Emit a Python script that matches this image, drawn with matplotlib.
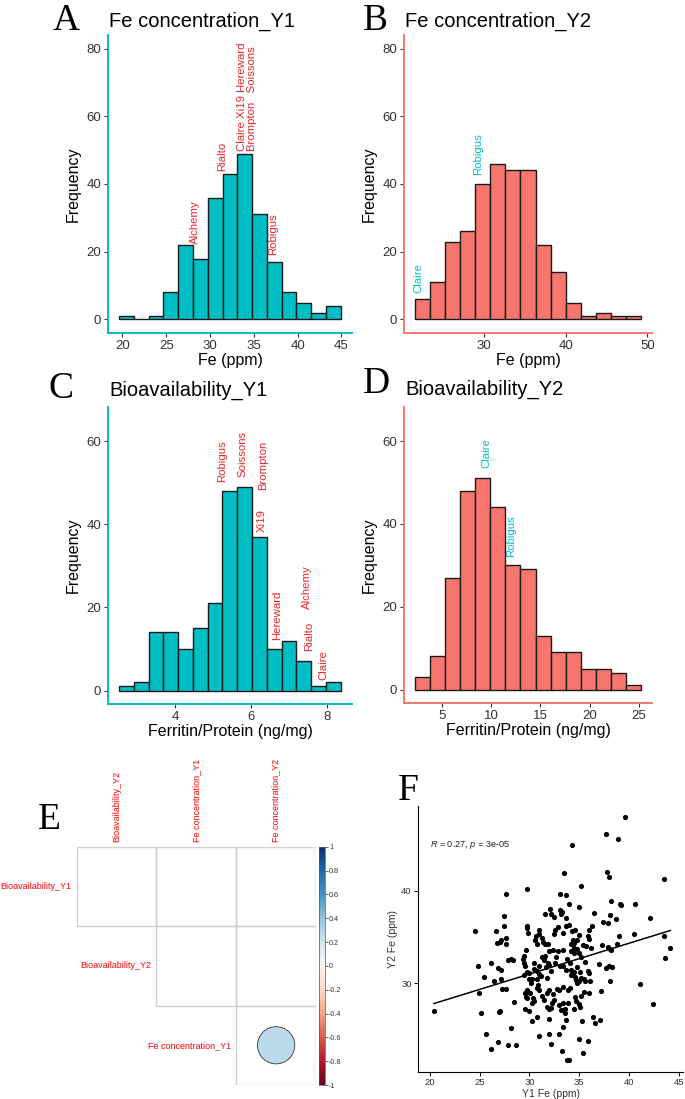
import numpy as np
import matplotlib
matplotlib.use("Agg")
import matplotlib.pyplot as plt
from matplotlib.patches import Rectangle, Circle

plt.rcParams['font.family'] = ['Liberation Sans', 'DejaVu Sans']
plt.rcParams['mathtext.fontset'] = 'custom'
plt.rcParams['mathtext.rm'] = 'Liberation Sans'
plt.rcParams['mathtext.it'] = 'Liberation Sans:italic'

# ---------------- data ----------------
# Histogram A: Fe concentration Y1
fe_y1_range = (19.62, 44.92)
fe_y1_counts = [1, 0, 1, 8, 22, 18, 36, 43, 49, 31, 17, 8, 5, 2, 4]
fe_y1_labels = ["Alchemy", "Rialto", "Claire Xi19 Hereward\nBrompton   Soissons", "Robigus"]
fe_y1_label_x = [28.27, 31.35, 34.2, 37.2]
fe_y1_label_y = [22.4, 43.8, 49.7, 19.0]

# Histogram B: Fe concentration Y2
fe_y2_range = (21.63, 49.18)
fe_y2_counts = [6, 11, 23, 26, 40, 46, 44, 44, 22, 14, 5, 1, 2, 1, 1]
fe_y2_labels = ["Claire", "Robigus"]
fe_y2_label_x = [22.0, 29.35]
fe_y2_label_y = [7.8, 42.8]

# Histogram C: Bioavailability Y1
bio_y1_range = (2.52, 8.374)
bio_y1_counts = [1, 2, 14, 14, 10, 15, 21, 48, 49, 37, 10, 12, 7, 1, 2]
bio_y1_labels = ["Robigus", "Soissons", "Brompton", "Xi19", "Hereward", "Alchemy", "Rialto", "Claire"]
bio_y1_label_x = [5.235, 5.78, 6.32, 6.29, 6.70, 7.48, 7.55, 7.91]
bio_y1_label_y = [50.2, 51.5, 48.2, 38.1, 12.1, 19.7, 9.5, 2.5]

# Histogram D: Bioavailability Y2
bio_y2_range = (2.28, 25.2)
bio_y2_counts = [3, 8, 27, 48, 51, 44, 30, 29, 13, 9, 9, 5, 5, 4, 1]
bio_y2_labels = ["Claire", "Robigus"]
bio_y2_label_x = [9.48, 12.03]
bio_y2_label_y = [53.6, 32.0]

# Correlation matrix (upper part shown)
corr_rows = ["Bioavailability_Y1", "Bioavailability_Y2", "Fe concentration_Y1"]
corr_cols = ["Bioavailability_Y2", "Fe concentration_Y1", "Fe concentration_Y2"]
corr_sig_row = [2]
corr_sig_col = [2]
corr_sig_val = [0.27]
cbar_ticks = [1, 0.8, 0.6, 0.4, 0.2, 0, -0.2, -0.4, -0.6, -0.8, -1]
cbar_labels = ["1", "0.8", "0.6", "0.4", "0.2", "0", "-0.2", "-0.4", "-0.6", "-0.8", "-1"]

# Scatter F: Y1 Fe vs Y2 Fe (ppm)
y1_fe = [39.59,37.65,38.85,34.24,33.44,37.75,37.95,43.46,29.73,35.14,
         27.65,33.1,33.63,33.97,34.94,38.15,39.05,39.2,40.62,42.06,
         32.1,32.2,33.07,33.3,33.14,31.53,32.43,33.7,36.48,37.41,
         37.88,38.08,38.65,27.45,27.42,24.5,26.62,27.65,26.75,27.1,
         27.15,27.69,29.73,29.76,29.83,31.0,30.96,30.7,31.23,30.53,
         30.8,31.33,31.57,31.83,32.6,32.46,32.87,33.7,33.94,33.37,
         34.27,34.61,34.34,34.17,34.5,34.47,34.2,34.8,35.0,35.14,
         35.98,35.91,35.95,36.3,35.71,36.18,37.28,37.88,38.05,38.15,
         38.78,38.98,40.49,43.46,44.13,43.6,41.1,42.43,37.01,37.65,
         37.98,38.3,38.1,37.2,26.12,26.85,27.19,24.85,25.45,26.42,
         27.12,24.91,27.29,27.69,27.89,28.12,28.32,29.32,29.49,29.66,
         29.42,29.59,29.49,29.96,29.73,30.43,30.96,30.47,30.73,30.96,
         30.29,30.73,31.2,31.5,31.87,31.97,31.7,32.14,31.8,32.6,
         32.7,33.1,33.67,34.17,34.47,34.77,35.07,35.54,35.91,36.01,
         34.2,34.54,34.64,35.14,34.97,34.8,35.47,35.54,36.04,36.01,
         35.44,34.1,33.87,33.4,32.77,32.97,31.97,31.74,30.96,30.86,
         30.73,29.93,30.19,29.59,29.76,30.06,29.69,29.79,30.33,30.5,
         30.26,29.56,29.96,28.48,27.08,26.98,25.18,20.43,31.26,31.43,
         31.77,31.97,32.2,32.3,32.43,32.33,32.93,33.17,33.37,33.57,
         33.54,34.47,34.57,34.7,34.97,35.07,35.14,33.34,33.87,36.41,
         37.08,36.54,35.27,33.7,32.0,30.8,30.29,33.37,28.15,25.68,
         30.96,31.97,33.0,34.97,35.84,26.85,32.14,27.82,28.66,26.12,
         33.27,35.37,33.74,33.94,
         34.94,34.74,35.34,34.47,34.04,33.34,31.3,31.93,32.37,31.56,33.4,33.74,32.87]
y2_fe = [47.88,46.1,45.5,44.9,41.9,42.05,41.5,41.2,40.2,40.5,
         39.6,39.6,39.5,38.5,38.2,38.85,38.55,38.4,38.6,37.05,
         38.0,37.45,37.95,37.7,37.5,37.45,37.2,37.0,37.55,36.6,
         36.55,37.35,36.9,37.3,36.2,35.6,35.65,34.9,34.4,34.45,
         34.7,34.3,36.2,35.95,35.45,35.75,35.3,35.15,34.85,34.7,
         34.3,34.5,34.3,34.2,35.8,35.3,36.1,36.2,36.25,35.45,
         35.6,35.8,34.7,34.3,34.4,33.85,33.5,33.75,33.25,32.9,
         35.7,35.1,34.8,36.2,34.0,33.85,34.15,33.9,33.7,33.6,
         34.2,35.1,35.3,35.15,33.8,32.7,29.95,27.8,32.1,31.7,
         31.85,31.8,30.25,29.2,32.25,31.7,31.45,31.85,30.7,30.3,
         30.45,29.0,29.35,29.35,32.55,32.6,32.5,32.6,32.95,33.6,
         32.15,31.9,30.9,31.1,31.2,32.25,31.9,31.55,31.35,31.05,
         30.45,30.5,30.8,32.5,32.2,31.95,31.8,31.35,30.6,32.25,
         32.8,31.85,31.4,31.5,31.2,31.8,31.2,32.35,31.3,31.15,
         30.9,30.7,30.35,30.55,30.3,30.0,30.45,30.25,30.3,29.0,
         29.1,29.55,29.3,29.65,29.35,29.3,29.3,29.0,29.3,29.8,
         29.5,30.45,30.1,29.0,29.3,29.0,28.55,28.4,28.4,28.1,
         27.85,27.2,27.05,28.0,27.05,26.9,26.85,27.0,28.6,28.2,
         27.5,27.3,27.35,27.85,28.2,28.9,27.7,27.1,27.15,26.85,
         27.2,27.2,28.55,28.1,27.75,27.45,28.65,27.9,27.95,26.4,
         26.1,25.7,26.0,26.05,26.2,26.35,26.0,25.35,25.2,24.55,
         24.3,24.6,24.6,24.0,23.8,23.7,23.5,23.4,23.4,22.95,
         22.7,22.5,21.75,21.75,
         35.2,34.7,34.1,33.25,32.15,31.9,32.9,33.5,33.65,32.95,33.65,32.6,33.5]
scatter_note = r"$\it{R}$ = 0.27, $\it{p}$ = 3e-05"

# ---------------- figure ----------------
W, H = 685, 1099
fig = plt.figure(figsize=(W / 100, H / 100), dpi=100)


def add_axes_px(l, t, r, b):
    return fig.add_axes([l / W, 1 - b / H, (r - l) / W, (b - t) / H])


def ftext(x, y, s, **kw):
    fig.text(x / W, 1 - y / H, s, **kw)


CYAN = '#00BFC4'
SALMON = '#F8766D'
LABEL_RED = '#E8262C'


def hist_panel(box, rng, counts, fill, spine, xlim, ylim, xticks, yticks, xlabel,
               labels, lx, ly, lcol):
    ax = add_axes_px(*box)
    edges = np.linspace(rng[0], rng[1], len(counts) + 1)
    ax.bar(edges[:-1], counts, width=np.diff(edges), align='edge', color=fill,
           edgecolor='#1a1a1a', linewidth=1.0, zorder=2)
    ax.set_xlim(*xlim)
    ax.set_ylim(*ylim)
    ax.set_xticks(xticks)
    ax.set_yticks(yticks)
    for s in ['top', 'right']:
        ax.spines[s].set_visible(False)
    for s in ['left', 'bottom']:
        ax.spines[s].set_color(spine)
        ax.spines[s].set_linewidth(1.4)
    ax.tick_params(length=3, width=0.8, color='#333333', labelsize=9.5,
                   labelcolor='#333333', pad=2)
    ax.set_xlabel(xlabel, fontsize=11.5, labelpad=1)
    ax.set_ylabel('Frequency', fontsize=11.5, labelpad=4)
    for name, x, y in zip(labels, lx, ly):
        ax.text(x, y, name, rotation=90, ha='center', va='bottom', color=lcol,
                fontsize=8.2, multialignment='left', linespacing=0.95, zorder=3)
    return ax


hist_panel((108, 35, 352, 333), fe_y1_range, fe_y1_counts, CYAN, CYAN,
           (18.36, 46.2), (-4, 84), [20, 25, 30, 35, 40, 45], [0, 20, 40, 60, 80],
           'Fe (ppm)', fe_y1_labels, fe_y1_label_x, fe_y1_label_y, LABEL_RED)
hist_panel((404, 35, 652, 333), fe_y2_range, fe_y2_counts, SALMON, SALMON,
           (20.25, 50.56), (-4, 84), [30, 40, 50], [0, 20, 40, 60, 80],
           'Fe (ppm)', fe_y2_labels, fe_y2_label_x, fe_y2_label_y, CYAN)
hist_panel((108, 407, 352, 704), bio_y1_range, bio_y1_counts, CYAN, CYAN,
           (2.23, 8.67), (-3.25, 68.25), [4, 6, 8], [0, 20, 40, 60],
           'Ferritin/Protein (ng/mg)', bio_y1_labels, bio_y1_label_x, bio_y1_label_y, LABEL_RED)
hist_panel((404, 407, 652, 703), bio_y2_range, bio_y2_counts, SALMON, SALMON,
           (1.13, 26.35), (-3.25, 68.25), [5, 10, 15, 20, 25], [0, 20, 40, 60],
           'Ferritin/Protein (ng/mg)', bio_y2_labels, bio_y2_label_x, bio_y2_label_y, CYAN)

# titles and panel letters
ftext(109, 27, 'Fe concentration_Y1', fontsize=14.5, va='baseline')
ftext(405, 27, 'Fe concentration_Y2', fontsize=14.5, va='baseline')
ftext(109, 396, 'Bioavailability_Y1', fontsize=14.5, va='baseline')
ftext(405, 395, 'Bioavailability_Y2', fontsize=14.5, va='baseline')
serif = dict(family=['Liberation Serif', 'DejaVu Serif'], fontsize=27, va='baseline')
ftext(53, 30, 'A', **serif)
ftext(363, 30, 'B', **serif)
ftext(48, 398, 'C', **serif)
ftext(363, 393, 'D', **serif)
ftext(38, 829, 'E', **serif)
ftext(398, 800, 'F', **serif)

# ---------------- E: correlation plot ----------------
axc = add_axes_px(76.7, 846.7, 316, 1085)
n = len(corr_rows)
axc.set_xlim(0, n)
axc.set_ylim(n, 0)
axc.axis('off')
for r in range(n):
    for c in range(r, n):
        axc.add_patch(Rectangle((c, r), 1, 1, fill=False, edgecolor='#cfcfcf', lw=1.0))
cmap = plt.get_cmap('RdBu')
for r, c, v in zip(corr_sig_row, corr_sig_col, corr_sig_val):
    rad = 0.9 * np.sqrt(abs(v)) / 2
    axc.add_patch(Circle((c + 0.5, r + 0.5), rad, facecolor=cmap((v + 1) / 2),
                         edgecolor='#333333', lw=0.6))
for c, name in enumerate(corr_cols):
    axc.text(c + 0.5, -0.065, name, rotation=90, ha='center', va='bottom',
             color='red', fontsize=6.5)
for r, name in enumerate(corr_rows):
    axc.text(r - 0.065, r + 0.5, name, ha='right', va='center', color='red', fontsize=6.5)

axb = add_axes_px(319, 846.7, 325, 1085)
grad = np.linspace(-1, 1, 256).reshape(-1, 1)
axb.imshow(grad, cmap='RdBu', aspect='auto', extent=[0, 1, -1, 1], origin='lower')
axb.set_xticks([])
axb.yaxis.tick_right()
axb.set_yticks(cbar_ticks)
axb.set_yticklabels(cbar_labels)
axb.set_ylim(-1, 1)
axb.tick_params(axis='y', length=2, width=0.5, labelsize=5.2, pad=1,
                colors='#333333')
for s in axb.spines.values():
    s.set_linewidth(0.5)
    s.set_color('#555555')

# ---------------- F: scatter ----------------
axs = add_axes_px(418, 806, 683, 1072)
x = np.array(y1_fe)
y = np.array(y2_fe)
axs.scatter(x, y, s=14, color='black', zorder=3, linewidths=0)
slope, icpt = np.polyfit(x, y, 1)
xx = np.array([x.min(), x.max()])
axs.plot(xx, slope * xx + icpt, color='black', lw=1.1, zorder=2)
axs.set_xlim(18.83, 45.4)
axs.set_ylim(20.47, 49.1)
axs.set_xticks([20, 25, 30, 35, 40, 45])
axs.set_yticks([30, 40])
for s in ['top', 'right']:
    axs.spines[s].set_visible(False)
for s in ['left', 'bottom']:
    axs.spines[s].set_linewidth(0.8)
axs.tick_params(length=3, width=0.7, labelsize=6.8, labelcolor='#333333', pad=1.5)
axs.set_xlabel('Y1 Fe (ppm)', fontsize=7.5, labelpad=1, color='#333333')
axs.set_ylabel('Y2 Fe (ppm)', fontsize=7.5, labelpad=2, color='#333333')
axs.text(20.07, 44.9, scatter_note, fontsize=6.6, ha='left', va='center', color='#222222')

fig.savefig('out.png', dpi=100)
